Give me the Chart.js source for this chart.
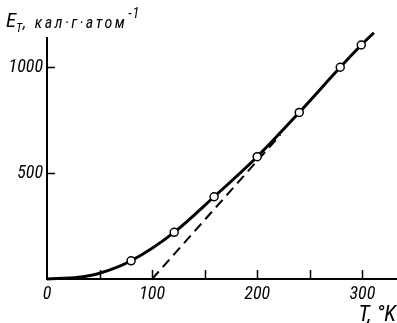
<!DOCTYPE html>
<html><head><meta charset="utf-8">
<script src="https://cdn.jsdelivr.net/npm/chart.js@4"></script>
<style>html,body{margin:0;padding:0;background:#fff}#w{width:397px;height:323px}</style>
</head><body><div id="w"><canvas id="c"></canvas></div>
<script>
const curveT = [0, 30, 50, 80, 121, 159, 200, 240, 279, 299, 311];
const curveE = [0, 8, 27, 86, 220, 388, 577, 786, 999, 1104, 1162];
const pointT = [80, 121, 159, 200, 240, 279, 299];
const pointE = [86, 220, 388, 577, 786, 999, 1104];
const dashT = [100, 222];
const dashE = [0, 680];
const xLabelTicks = [0, 100, 200, 300];
const xTickMarks = [50, 100, 150, 200, 250, 300];
const yLabelTicks = [500, 1000];
const yTickMarks = [500, 1000];

const FONT = "'Roboto Condensed','DejaVu Sans Condensed',sans-serif";
const toXY = (xs, ys) => xs.map((x, i) => ({x, y: ys[i]}));

const extras = {
  id: 'extras',
  afterDraw(chart) {
    const ctx = chart.ctx, xs = chart.scales.x, ys = chart.scales.y, a = chart.chartArea;
    ctx.save();
    ctx.strokeStyle = '#000'; ctx.lineWidth = 1.5;
    xTickMarks.forEach(v => { const p = Math.round(xs.getPixelForValue(v)) + 0.5; ctx.beginPath(); ctx.moveTo(p, a.bottom); ctx.lineTo(p, a.bottom - 9); ctx.stroke(); });
    yTickMarks.forEach(v => { const p = Math.round(ys.getPixelForValue(v)) + 0.5; ctx.beginPath(); ctx.moveTo(a.left, p); ctx.lineTo(a.left + 8, p); ctx.stroke(); });
    ctx.fillStyle = '#000'; ctx.textBaseline = 'alphabetic'; ctx.textAlign = 'left';
    // y title
    ctx.font = "italic 21px " + FONT; ctx.fillText('E', 6, 27);
    ctx.font = "italic 12px " + FONT; ctx.fillText('T', 16, 32);
    ctx.font = "italic 16px " + FONT;
    if ('letterSpacing' in ctx) ctx.letterSpacing = '2.5px';
    ctx.fillText(', кал·г·атом', 23, 28);
    const w = ctx.measureText(', кал·г·атом').width;
    if ('letterSpacing' in ctx) ctx.letterSpacing = '1px';
    ctx.font = "italic 14px " + FONT; ctx.fillText('-1', 23 + w + 1, 18);
    // x title
    ctx.font = "italic 22px " + FONT; ctx.textAlign = 'right';
    if ('letterSpacing' in ctx) ctx.letterSpacing = '0px';
    ctx.fillText('T, °K', 396, 321);
    ctx.restore();
  }
};

new Chart(document.getElementById('c'), {
  type: 'line',
  data: { datasets: [
    { data: toXY(curveT, curveE), borderColor: '#000', borderWidth: 3, pointRadius: 0, cubicInterpolationMode: 'monotone', clip: false, order: 2 },
    { data: toXY(dashT, dashE), borderColor: '#000', borderWidth: 2, borderDash: [10, 6], pointRadius: 0, tension: 0, clip: false, order: 3 },
    { data: toXY(pointT, pointE), showLine: false, pointRadius: 4, pointBackgroundColor: '#fff', pointBorderColor: '#000', pointBorderWidth: 1.5, clip: false, order: 1 }
  ]},
  plugins: [extras],
  options: {
    responsive: true, maintainAspectRatio: false, animation: false,
    layout: { autoPadding: false, padding: { top: 38, right: 0, left: 0, bottom: 0 } },
    plugins: { legend: { display: false }, tooltip: { enabled: false } },
    scales: {
      x: { type: 'linear', min: 0, max: 333,
        afterBuildTicks: s => { s.ticks = xLabelTicks.map(v => ({value: v})); },
        afterFit: s => { s.height = 44; s.paddingLeft = 0; s.paddingRight = 0; },
        grid: { display: false, drawTicks: false },
        border: { display: true, color: '#000', width: 2 },
        ticks: { color: '#000', padding: 5, maxRotation: 0, autoSkip: false, callback: v => String(v), font: { family: FONT, size: 18, style: 'italic' } } },
      y: { type: 'linear', min: 0, max: 1137,
        afterBuildTicks: s => { s.ticks = yLabelTicks.map(v => ({value: v})); },
        afterFit: s => { s.width = 47; s.paddingTop = 0; s.paddingBottom = 0; },
        grid: { display: false, drawTicks: false },
        border: { display: true, color: '#000', width: 2 },
        ticks: { color: '#000', padding: 4, autoSkip: false, callback: v => String(v), font: { family: FONT, size: 18, style: 'italic' } } }
    }
  }
});
</script></body></html>
